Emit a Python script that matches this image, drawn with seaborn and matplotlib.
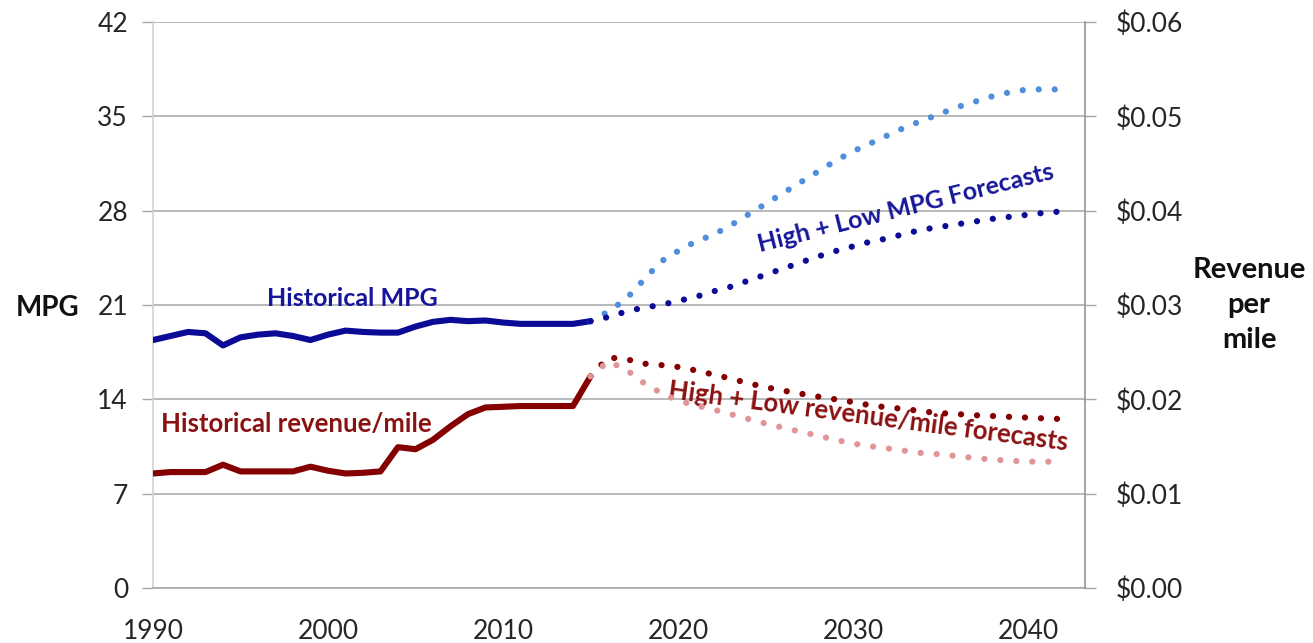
import numpy as np
import pandas as pd
import matplotlib
matplotlib.use("Agg")
import matplotlib.pyplot as plt
import seaborn as sns

# ---------------- data ----------------
hist_years = list(range(1990, 2016))
hist_mpg = [18.4, 18.7, 19.0, 18.9, 18.0, 18.6, 18.8, 18.9, 18.7, 18.4,
            18.8, 19.1, 19.0, 18.95, 18.95, 19.4, 19.75, 19.9, 19.8, 19.85,
            19.7, 19.6, 19.6, 19.6, 19.6, 19.8]
hist_rev = [0.01214, 0.01229, 0.01229, 0.01229, 0.01307, 0.01236, 0.01236, 0.01236,
            0.01236, 0.01286, 0.01243, 0.01214, 0.01221, 0.01236, 0.01493, 0.01471,
            0.01571, 0.01714, 0.01843, 0.01914, 0.01921, 0.01929, 0.01929, 0.01929,
            0.01929, 0.02243]

fc_years = list(range(2015, 2043))
mpg_high = [19.8, 20.5, 21.4, 22.8, 24.2, 25.0, 25.7, 26.2, 26.9, 27.7,
            28.5, 29.3, 30.1, 30.9, 31.7, 32.4, 33.0, 33.6, 34.2, 34.7,
            35.2, 35.7, 36.1, 36.5, 36.8, 37.0, 37.0, 37.0]
mpg_low = [19.8, 20.1, 20.5, 20.8, 21.0, 21.3, 21.6, 22.0, 22.35, 22.8,
           23.25, 23.7, 24.15, 24.6, 25.0, 25.35, 25.7, 25.95, 26.3, 26.6,
           26.8, 27.0, 27.2, 27.4, 27.55, 27.7, 27.85, 27.95]
rev_high = [0.02243, 0.02443, 0.02429, 0.02379, 0.02364, 0.02343, 0.02307, 0.02264,
            0.02221, 0.02171, 0.02129, 0.02093, 0.02060, 0.02029, 0.02000, 0.01971,
            0.01936, 0.01914, 0.01897, 0.01871, 0.01854, 0.01843, 0.01831, 0.01823,
            0.01814, 0.01806, 0.01797, 0.01791]
rev_low = [0.02243, 0.02400, 0.02321, 0.02180, 0.02071, 0.01986, 0.01936, 0.01893,
           0.01843, 0.01793, 0.01743, 0.01700, 0.01657, 0.01614, 0.01571, 0.01531,
           0.01503, 0.01479, 0.01454, 0.01429, 0.01417, 0.01397, 0.01377, 0.01361,
           0.01349, 0.01340, 0.01339, 0.01339]

mpg_ticks = [0, 7, 14, 21, 28, 35, 42]
rev_ticks = [0.00, 0.01, 0.02, 0.03, 0.04, 0.05, 0.06]
year_ticks = [1990, 2000, 2010, 2020, 2030, 2040]

# ---------------- style ----------------
sns.set_style("white")
plt.rcParams['font.family'] = ['Lato', 'DejaVu Sans']

DARK_BLUE = "#0b0b96"
LIGHT_BLUE = "#4f8edc"
DARK_RED = "#850000"
PINK = "#e09696"
GRID = "#a6a6a6"
TXT = "#262626"

fig = plt.figure(figsize=(13.13, 6.43), dpi=100)
ax = fig.add_axes([153/1313, 1 - 588/643, (1085 - 153)/1313, (588 - 22)/643])
ax2 = ax.twinx()

dot = (0, (0.01, 2.55))
DOT_LW = 4.5

sns.lineplot(x=hist_years, y=hist_mpg, ax=ax, color=DARK_BLUE, lw=4.4,
             solid_capstyle='round', zorder=3)
sns.lineplot(x=fc_years, y=mpg_high, ax=ax, color=LIGHT_BLUE, lw=DOT_LW,
             linestyle=dot, dash_capstyle='round', zorder=3)
sns.lineplot(x=fc_years, y=mpg_low, ax=ax, color=DARK_BLUE, lw=DOT_LW,
             linestyle=dot, dash_capstyle='round', zorder=3)

sns.lineplot(x=hist_years, y=hist_rev, ax=ax2, color=DARK_RED, lw=4.4,
             solid_capstyle='round', zorder=3)
sns.lineplot(x=fc_years, y=rev_high, ax=ax2, color=DARK_RED, lw=DOT_LW,
             linestyle=dot, dash_capstyle='round', zorder=3)
sns.lineplot(x=fc_years, y=rev_low, ax=ax2, color=PINK, lw=DOT_LW,
             linestyle=dot, dash_capstyle='round', zorder=3)

# axes
ax.set_xlim(1990, 2043.26)
ax.set_ylim(0, 42)
ax2.set_ylim(0, 0.06)
ax.set_xticks(year_ticks)
ax.set_yticks(mpg_ticks)
ax2.set_yticks(rev_ticks)
ax2.set_yticklabels([f"${v:.2f}" for v in rev_ticks])
ax.set_xlabel("")
ax.set_ylabel("")
ax2.set_ylabel("")

ax.grid(axis='y', color=GRID, lw=1.1)
ax.grid(axis='x', visible=False)
ax2.grid(False)
ax.set_axisbelow(True)

for a in (ax, ax2):
    a.spines['top'].set_visible(False)
    for s in ('left', 'right', 'bottom'):
        a.spines[s].set_color(GRID)
        a.spines[s].set_linewidth(1.1)
ax.spines['left'].set_color("#d0d0d0")
ax2.spines['left'].set_visible(False)
ax2.spines['bottom'].set_visible(False)
ax.spines['right'].set_visible(False)
ax2.spines['right'].set_color("#8c8c8c")

ax.tick_params(axis='both', direction='out', length=8, width=1, color=GRID,
               labelsize=19, labelcolor=TXT, pad=10)
ax.tick_params(axis='y', length=8, pad=10)
ax2.tick_params(axis='y', direction='out', length=8, width=1, color=GRID,
                labelsize=19, labelcolor=TXT, pad=14)
ax.tick_params(axis='x', pad=14)

# axis titles
fig.text(48/1313, 1 - 308/643, "MPG", fontsize=20, fontweight='bold',
         ha='center', va='center', color="#111111")
fig.text(1249/1313, 1 - 305/643, "Revenue\nper\nmile", fontsize=21, fontweight='bold',
         ha='center', va='center', color="#111111", linespacing=1.45)

# annotations
ax.text(2001.4, 21.5, "Historical MPG", fontsize=18, fontweight='bold',
        color="#16169a", ha='center', va='center')
ax.text(1998.2, 12.2, "Historical revenue/mile", fontsize=18.5, fontweight='bold',
        color="#8b1111", ha='center', va='center')
ax.text(2033.0, 28.2, "High + Low MPG Forecasts", fontsize=18, fontweight='bold',
        color="#16169a", ha='center', va='center', rotation=14,
        rotation_mode='anchor')
ax.text(2030.9, 12.7, "High + Low revenue/mile forecasts", fontsize=18.5,
        fontweight='bold', color="#8b1111", ha='center', va='center',
        rotation=-7.5, rotation_mode='anchor')

fig.savefig("out.png", dpi=100)
